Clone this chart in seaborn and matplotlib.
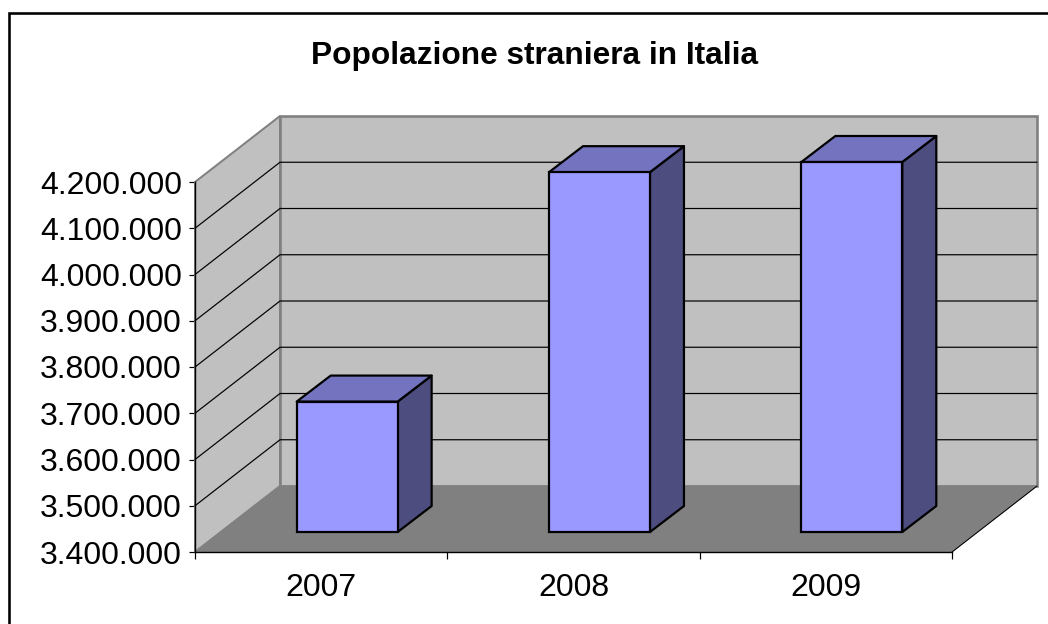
import matplotlib
matplotlib.use("Agg")
import matplotlib.pyplot as plt
from matplotlib.lines import Line2D
from matplotlib.patches import Polygon
import pandas as pd
import seaborn as sns

years = ["2007", "2008", "2009"]
foreigners = [3682000, 4178000, 4200000]
y_ticks = [3400000, 3500000, 3600000, 3700000, 3800000, 3900000, 4000000, 4100000, 4200000]
y_labels = ["3.400.000", "3.500.000", "3.600.000", "3.700.000", "3.800.000",
            "3.900.000", "4.000.000", "4.100.000", "4.200.000"]
title = "Popolazione straniera in Italia"

W, H = 1048, 624
X0, X1, Y_TOP, Y_BOT = 195, 952, 182, 552     # front plane, pixels
WALL_DX, WALL_DY = 85, 66
BAR_OFF_DX, BAR_OFF_DY = 26, 20
BAR_DX, BAR_DY = 34, 26
PX = 0.72  # points per pixel

sns.set_theme(style="white")
plt.rcParams["font.family"] = ["Liberation Sans", "DejaVu Sans"]

fig = plt.figure(figsize=(W / 100, H / 100), dpi=100, facecolor="white")
pos = [X0 / W, (H - Y_BOT) / H, (X1 - X0) / W, (Y_BOT - Y_TOP) / H]
ax = fig.add_axes(pos)
ax.patch.set_alpha(0)

ylim = (y_ticks[0], y_ticks[-1])
xlim = (-0.5, len(years) - 0.5)
px_x = (X1 - X0) / (xlim[1] - xlim[0])
px_y = (Y_BOT - Y_TOP) / (ylim[1] - ylim[0])
ax.set_xlim(xlim)
ax.set_ylim(ylim)

wdx, wdy = WALL_DX / px_x, WALL_DY / px_y
x0, x1 = xlim
y0, y1 = ylim
WALL, FLOOR, EDGE = "#C0C0C0", "#808080", "#808080"
ax.add_patch(Polygon([(x0 + wdx, y0 + wdy), (x1 + wdx, y0 + wdy), (x1 + wdx, y1 + wdy), (x0 + wdx, y1 + wdy)],
                     fc=WALL, ec=EDGE, lw=2.6 * PX, clip_on=False, zorder=1))
ax.add_patch(Polygon([(x0, y0), (x0 + wdx, y0 + wdy), (x0 + wdx, y1 + wdy), (x0, y1)],
                     fc=WALL, ec=EDGE, lw=2 * PX, clip_on=False, zorder=1))
ax.add_patch(Polygon([(x0, y0), (x1, y0), (x1 + wdx, y0 + wdy), (x0 + wdx, y0 + wdy)],
                     fc=FLOOR, ec=EDGE, lw=1 * PX, clip_on=False, zorder=1.1))
for t in y_ticks[1:-1]:
    ax.plot([x0, x0 + wdx, x1 + wdx], [t, t + wdy, t + wdy], color="black", lw=1.2 * PX,
            clip_on=False, zorder=1.5, solid_joinstyle="miter")
ax.plot([x1, x1 + wdx], [y0, y0 + wdy], color="black", lw=1 * PX, clip_on=False, zorder=1.5)

ax.set_xticks([x0, x0 + 1, x0 + 2, x1])
ax.set_xticklabels([])
ax.set_xticks(range(len(years)), years, minor=True)
ax.set_yticks(y_ticks, y_labels)
ax.tick_params(axis="y", which="major", length=6 * PX, width=1.2 * PX, color="black",
               left=True, labelsize=23, pad=7 * PX, labelcolor="black")
ax.tick_params(axis="x", which="major", length=7 * PX, width=1.2 * PX, color="black", bottom=True)
ax.tick_params(axis="x", which="minor", length=0, labelsize=23, pad=20.5 * PX, labelcolor="black", bottom=False)
for s in ("top", "right"):
    ax.spines[s].set_visible(False)
for s in ("left", "bottom"):
    ax.spines[s].set_color("black")
    ax.spines[s].set_linewidth(1.4 * PX)
    ax.spines[s].set_zorder(3)
for lbl in ax.get_xticklabels(minor=True):
    lbl.set_x(lbl.get_position()[0])

# Bars sit on a plane shifted back into the chart box
pos2 = [(X0 + BAR_OFF_DX) / W, (H - Y_BOT + BAR_OFF_DY) / H, pos[2], pos[3]]
ax2 = fig.add_axes(pos2)
ax2.patch.set_alpha(0)
df = pd.DataFrame({"year": years, "foreigners": foreigners})
FACE, SIDE, TOP = "#9999FF", "#4D4D80", "#7373BF"
sns.barplot(data=df, x="year", y="foreigners", ax=ax2, color=FACE, saturation=1, width=0.4,
            edgecolor="black", linewidth=2.2 * PX, clip_on=False, zorder=3)
ax2.set_xlim(xlim)
ax2.set_ylim(ylim)
ax2.axis("off")
bdx, bdy = BAR_DX / px_x, BAR_DY / px_y
for bar, v in zip(ax2.patches, foreigners):
    bar.set_y(y0)
    bar.set_height(v - y0)
    l, r = bar.get_x(), bar.get_x() + bar.get_width()
    ax2.add_patch(Polygon([(r, y0), (r + bdx, y0 + bdy), (r + bdx, v + bdy), (r, v)],
                          fc=SIDE, ec="black", lw=2.2 * PX, clip_on=False, zorder=2, joinstyle="round"))
    ax2.add_patch(Polygon([(l, v), (r, v), (r + bdx, v + bdy), (l + bdx, v + bdy)],
                          fc=TOP, ec="black", lw=2.2 * PX, clip_on=False, zorder=2, joinstyle="round"))

fig.text(535 / W, 1 - 56 / H, title, ha="center", va="center", fontsize=22.8, fontweight="bold", color="black")
fig.add_artist(Line2D([8.5 / W, 8.5 / W, 1], [0, 1 - 12.5 / H, 1 - 12.5 / H], color="black", lw=2.6 * PX,
                      solid_joinstyle="miter"))

fig.savefig("out.png", dpi=100)
